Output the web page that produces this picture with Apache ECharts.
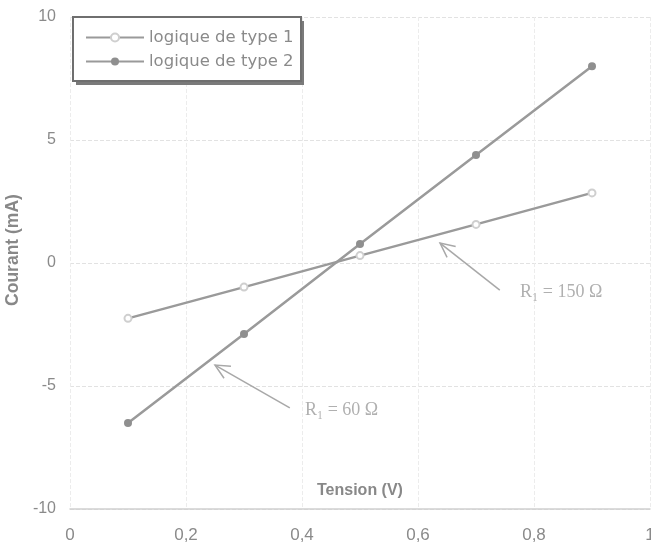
<!DOCTYPE html>
<html><head><meta charset="utf-8">
<script src="https://cdn.jsdelivr.net/npm/echarts@6/dist/echarts.min.js"></script>
<style>html,body{margin:0;padding:0;background:#fff}#c{width:651px;height:551px}</style>
</head><body><div id="c"></div>
<script>
const tensionV = [0.1, 0.3, 0.5, 0.7, 0.9];
const type1 = [-2.25, -0.98, 0.3, 1.57, 2.85];
const type2 = [-6.5, -2.89, 0.77, 4.39, 8.0];
const seriesNames = ['logique de type 1', 'logique de type 2'];
const xTicks = [0, 0.2, 0.4, 0.6, 0.8, 1];
const yTicks = [-10, -5, 0, 5, 10];
const notes = [
  {text: 'R\u2081 = 150 \u03A9', at: [0.776, -1.18], from: [0.741, -1.1], to: [0.638, 0.81]},
  {text: 'R\u2081 = 60 \u03A9', at: [0.405, -5.98], from: [0.379, -5.89], to: [0.25, -4.15]}
];

const chart = echarts.init(document.getElementById('c'));
const grey = '#9a9a9a';
const option = {
  animation: false,
  backgroundColor: '#fff',
  grid: {left: 70, right: 1, top: 17, bottom: 42, outerBoundsMode: 'none', containLabel: false},
  title: {text: 'Tension (V)', left: 317, top: 483, padding: 0,
    textStyle: {color: '#888', fontSize: 16, fontWeight: 'bold', fontFamily: 'Liberation Sans'}},
  legend: {
    left: 73, top: 17, orient: 'vertical',
    data: seriesNames,
    backgroundColor: 'transparent', borderWidth: 0,
    padding: [12, 10, 10, 12], itemGap: 7,
    itemWidth: 58, itemHeight: 10,
    textStyle: {color: '#8a8a8a', fontSize: 16.5, fontFamily: 'DejaVu Sans'}
  },
  xAxis: {
    type: 'value', min: 0, max: 1, interval: 0.2,
    axisLine: {show: true, onZero: false, lineStyle: {color: '#d0d0d0', width: 1.5}},
    axisTick: {show: false},
    axisLabel: {color: '#8a8a8a', fontSize: 17, margin: 18, fontFamily: 'Liberation Sans',
      formatter: v => String(Math.round(v * 10) / 10).replace('.', ',')},
    splitLine: {show: true, lineStyle: {color: '#ececec', type: 'dashed'}}
  },
  yAxis: {
    type: 'value', min: -10, max: 10, interval: 5,
    name: 'Courant (mA)', nameLocation: 'middle', nameGap: 48,
    nameTextStyle: {color: '#888', fontSize: 17.5, fontWeight: 'bold', fontFamily: 'Liberation Sans',
      padding: [0, 0, 0, 26]},
    axisLine: {show: false}, axisTick: {show: false},
    axisLabel: {color: '#8a8a8a', fontSize: 16, margin: 14, fontFamily: 'Liberation Sans'},
    splitLine: {show: true, lineStyle: {color: '#e2e2e2', type: 'dashed'}}
  },
  series: [
    {name: seriesNames[0], type: 'line', data: tensionV.map((x, i) => [x, type1[i]]),
     symbol: 'emptyCircle', symbolSize: 7, showAllSymbol: true,
     lineStyle: {color: grey, width: 2.5}, itemStyle: {color: '#cfcfcf', borderWidth: 1}},
    {name: seriesNames[1], type: 'line', data: tensionV.map((x, i) => [x, type2[i]]),
     symbol: 'circle', symbolSize: 8,
     lineStyle: {color: grey, width: 2.5}, itemStyle: {color: '#8f8f8f'}}
  ]
};
chart.setOption(option);

const gfx = [
  {type: 'rect', z: 1, shape: {x: 76, y: 21, width: 228, height: 64}, style: {fill: '#7a7a7a'}},
  {type: 'rect', z: 2, shape: {x: 73, y: 17, width: 228, height: 64},
   style: {fill: '#fff', stroke: '#6f6f6f', lineWidth: 2}}
];
notes.forEach(n => {
  const a = chart.convertToPixel({gridIndex: 0}, n.from);
  const b = chart.convertToPixel({gridIndex: 0}, n.to);
  const t = chart.convertToPixel({gridIndex: 0}, n.at);
  const ang = Math.atan2(a[1] - b[1], a[0] - b[0]);
  const L = 16, w = 0.45;
  const h1 = [b[0] + L * Math.cos(ang + w), b[1] + L * Math.sin(ang + w)];
  const h2 = [b[0] + L * Math.cos(ang - w), b[1] + L * Math.sin(ang - w)];
  gfx.push({type: 'polyline', shape: {points: [a, b]}, style: {stroke: '#a8a8a8', lineWidth: 1.5}});
  gfx.push({type: 'polyline', shape: {points: [h1, b, h2]}, style: {stroke: '#a8a8a8', lineWidth: 1.5, fill: null}});
  gfx.push({type: 'text', x: t[0], y: t[1], style: {text: n.text, fill: '#b0b0b0', fontSize: 18,
    fontFamily: 'Liberation Serif', verticalAlign: 'middle', align: 'left'}});
});
chart.setOption({graphic: gfx});
</script></body></html>
